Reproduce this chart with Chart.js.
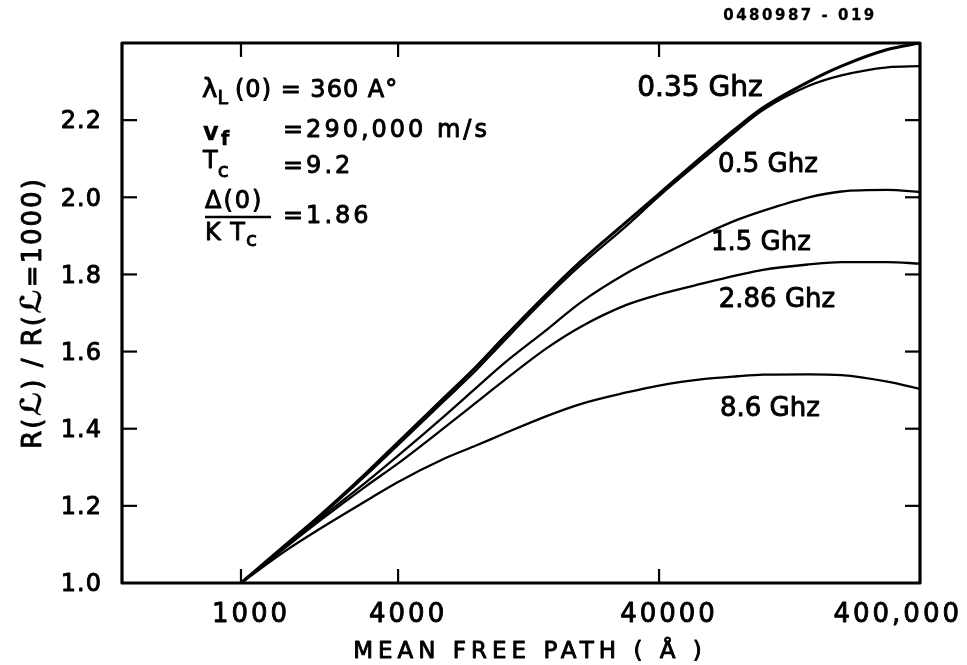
<!DOCTYPE html>
<html>
<head>
<meta charset="utf-8">
<script src="https://cdn.jsdelivr.net/npm/chart.js@4.4.1/dist/chart.umd.min.js"></script>
<style>
  html, body { margin: 0; padding: 0; background: #fff; }
  canvas { display: block; }
</style>
</head>
<body>
<canvas id="c" width="967" height="665"></canvas>
<script>
// ---------------- data ----------------
const meanFreePath = [1000, 1500, 2000, 3000, 4000, 6000, 8000, 10000, 15000, 20000, 30000, 40000, 60000, 80000, 100000, 150000, 200000, 300000, 400000];
const series035 = [1.000, 1.102, 1.174, 1.283, 1.365, 1.480, 1.562, 1.631, 1.752, 1.833, 1.936, 2.009, 2.112, 2.182, 2.232, 2.300, 2.340, 2.383, 2.400];
const series05  = [1.000, 1.100, 1.171, 1.278, 1.358, 1.472, 1.553, 1.622, 1.744, 1.824, 1.926, 2.003, 2.104, 2.175, 2.226, 2.289, 2.316, 2.337, 2.340];
const series15  = [1.000, 1.097, 1.166, 1.260, 1.330, 1.432, 1.507, 1.565, 1.659, 1.727, 1.803, 1.847, 1.905, 1.942, 1.965, 2.000, 2.015, 2.019, 2.014];
const series286 = [1.000, 1.095, 1.161, 1.250, 1.310, 1.402, 1.469, 1.521, 1.611, 1.664, 1.721, 1.748, 1.778, 1.798, 1.812, 1.826, 1.832, 1.832, 1.828];
const series86  = [1.000, 1.086, 1.140, 1.212, 1.262, 1.322, 1.357, 1.385, 1.434, 1.464, 1.494, 1.512, 1.529, 1.536, 1.540, 1.541, 1.539, 1.522, 1.503];
const seriesNames = ['0.35 Ghz', '0.5 Ghz', '1.5 Ghz', '2.86 Ghz', '8.6 Ghz'];
const xTickValues = [1000, 4000, 40000, 400000];
const xTickLabels = ['1000', '4000', '40000', '400,000'];
const yTickValues = [1.0, 1.2, 1.4, 1.6, 1.8, 2.0, 2.2];
const xTitle = 'MEAN FREE PATH ( Å )';
const figureId = '0480987 - 019';

// ---------------- helpers ----------------
const FONT = '"DejaVu Sans", "Liberation Sans", sans-serif';
function setFont(ctx, size, bold) { ctx.font = (bold ? 'bold ' : '') + size + 'px ' + FONT; }
function txt(ctx, s, x, y, o) {
  o = o || {};
  setFont(ctx, o.size || 24, o.bold);
  ctx.letterSpacing = (o.ls || 0) + 'px';
  ctx.textAlign = o.align || 'left';
  ctx.textBaseline = o.base || 'alphabetic';
  ctx.fillText(s, x, y);
  const sw = o.sw === undefined ? 0.9 : o.sw;
  if (sw > 0) { ctx.lineWidth = sw; ctx.strokeText(s, x, y); }
  const w = ctx.measureText(s).width;
  ctx.letterSpacing = '0px';
  return w;
}
function line(ctx, x1, y1, x2, y2) { ctx.beginPath(); ctx.moveTo(x1, y1); ctx.lineTo(x2, y2); ctx.stroke(); }

const curveLabels = [
  { text: seriesNames[0], x: 57400,  y: 2.281, size: 28 },
  { text: seriesNames[1], x: 104500, y: 2.083, size: 26 },
  { text: seriesNames[2], x: 98200,  y: 1.882, size: 26 },
  { text: seriesNames[3], x: 113200, y: 1.734, size: 26 },
  { text: seriesNames[4], x: 106400, y: 1.450, size: 26 }
];

const decor = {
  id: 'decor',
  afterDraw(chart) {
    const { ctx, chartArea: a, scales: { x, y } } = chart;
    ctx.save();
    ctx.fillStyle = '#000';
    ctx.strokeStyle = '#000';
    ctx.lineJoin = 'round';
    // frame
    ctx.lineWidth = 3.2;
    ctx.strokeRect(a.left, a.top, a.right - a.left, a.bottom - a.top);
    // inward tick marks
    ctx.lineWidth = 2.2;
    x.ticks.forEach(t => {
      if (t.value >= x.max) return;
      const px = x.getPixelForValue(t.value);
      line(ctx, px, a.bottom, px, a.bottom - 14);
      line(ctx, px, a.top, px, a.top + 14);
    });
    yTickValues.forEach(v => {
      const py = y.getPixelForValue(v);
      if (v > y.min + 1e-6) {
        ctx.lineWidth = 2.2;
        line(ctx, a.left, py, a.left + 15, py);
        line(ctx, a.right, py, a.right - 15, py);
      }
      txt(ctx, v.toFixed(1), a.left - 20, py + 2, { size: 24, align: 'right', base: 'middle', ls: 1 });
    });
    // x tick labels
    xTickValues.forEach((v, i) => {
      setFont(ctx, 26, false);
      ctx.letterSpacing = '3px';
      const w = ctx.measureText(xTickLabels[i]).width;
      ctx.letterSpacing = '0px';
      let cx = x.getPixelForValue(v) + 10;
      cx = Math.min(cx, chart.width - 5 - w / 2);
      txt(ctx, xTickLabels[i], cx - w / 2, 622, { size: 26, ls: 3 });
    });
    // x title
    txt(ctx, xTitle, 530, 658, { size: 23, ls: 5, align: 'center' });
    // y title (rotated, mixed weights)
    const parts = [['R(', false, 26], ['ℒ', true, 29], [') / R(', false, 26], ['ℒ', true, 29], ['=1000)', false, 26]];
    ctx.save();
    ctx.translate(41, 313);
    ctx.rotate(-Math.PI / 2);
    let total = 0;
    parts.forEach(p => { setFont(ctx, p[2], p[1]); ctx.letterSpacing = '2px'; total += ctx.measureText(p[0]).width; });
    ctx.letterSpacing = '0px';
    let cur = -total / 2;
    parts.forEach(p => { cur += txt(ctx, p[0], cur, 0, { size: p[2], bold: p[1], ls: 2, sw: p[1] ? 0.3 : 0.9 }); });
    ctx.restore();
    // figure id
    txt(ctx, figureId, 800, 20, { size: 15, bold: true, ls: 2.5, align: 'center', sw: 0.3 });
    // parameter block
    let w = txt(ctx, 'λ', 202, 97, { size: 26 });
    txt(ctx, 'L', 202 + w, 104, { size: 19 });
    txt(ctx, '(0) = 360 A°', 235, 97, { size: 24, ls: 1 });
    w = txt(ctx, 'v', 203, 140, { size: 24, bold: true, sw: 0.3 });
    txt(ctx, 'f', 205 + w, 145, { size: 20, bold: true, sw: 0.3 });
    txt(ctx, '=290,000 m/s', 283, 137, { size: 24, ls: 3 });
    w = txt(ctx, 'T', 203, 168, { size: 24 });
    txt(ctx, 'c', 203 + w, 177, { size: 20 });
    txt(ctx, '=9.2', 283, 173, { size: 24, ls: 3 });
    txt(ctx, 'Δ(0)', 205, 208, { size: 24, ls: 2 });
    ctx.lineWidth = 2.5;
    line(ctx, 205, 217, 271, 217);
    w = txt(ctx, 'K T', 205, 240, { size: 24, ls: 1 });
    txt(ctx, 'c', 205 + w, 246, { size: 20 });
    txt(ctx, '=1.86', 283, 223, { size: 24, ls: 3 });
    // curve labels
    curveLabels.forEach(l => {
      txt(ctx, l.text, x.getPixelForValue(l.x), y.getPixelForValue(l.y), { size: l.size, align: 'center', base: 'middle' });
    });
    ctx.restore();
  }
};

const allSeries = [series035, series05, series15, series286, series86];
const widths = [3, 2.3, 2.3, 2.3, 2.3];
const datasets = allSeries.map((s, i) => ({
  label: seriesNames[i],
  data: meanFreePath.map((xv, j) => ({ x: xv, y: s[j] })),
  borderColor: '#000',
  borderWidth: widths[i],
  pointRadius: 0,
  fill: false,
  cubicInterpolationMode: 'monotone'
}));

new Chart(document.getElementById('c'), {
  type: 'line',
  data: { datasets },
  options: {
    responsive: false,
    animation: false,
    devicePixelRatio: 1,
    layout: { padding: { left: 0, right: 47, top: 43, bottom: 0 } },
    plugins: { legend: { display: false }, tooltip: { enabled: false } },
    scales: {
      x: {
        type: 'logarithmic',
        min: 350,
        max: 400000,
        grid: { display: false },
        border: { display: false },
        ticks: { display: false },
        afterBuildTicks: s => { s.ticks = xTickValues.map(v => ({ value: v })); },
        afterFit: s => { s.height = 82; }
      },
      y: {
        type: 'linear',
        min: 1.0,
        max: 2.4,
        grid: { display: false },
        border: { display: false },
        afterBuildTicks: s => { s.ticks = yTickValues.map(v => ({ value: v })); },
        ticks: { display: false },
        afterFit: s => { s.width = 122; }
      }
    }
  },
  plugins: [decor]
});
</script>
</body>
</html>
